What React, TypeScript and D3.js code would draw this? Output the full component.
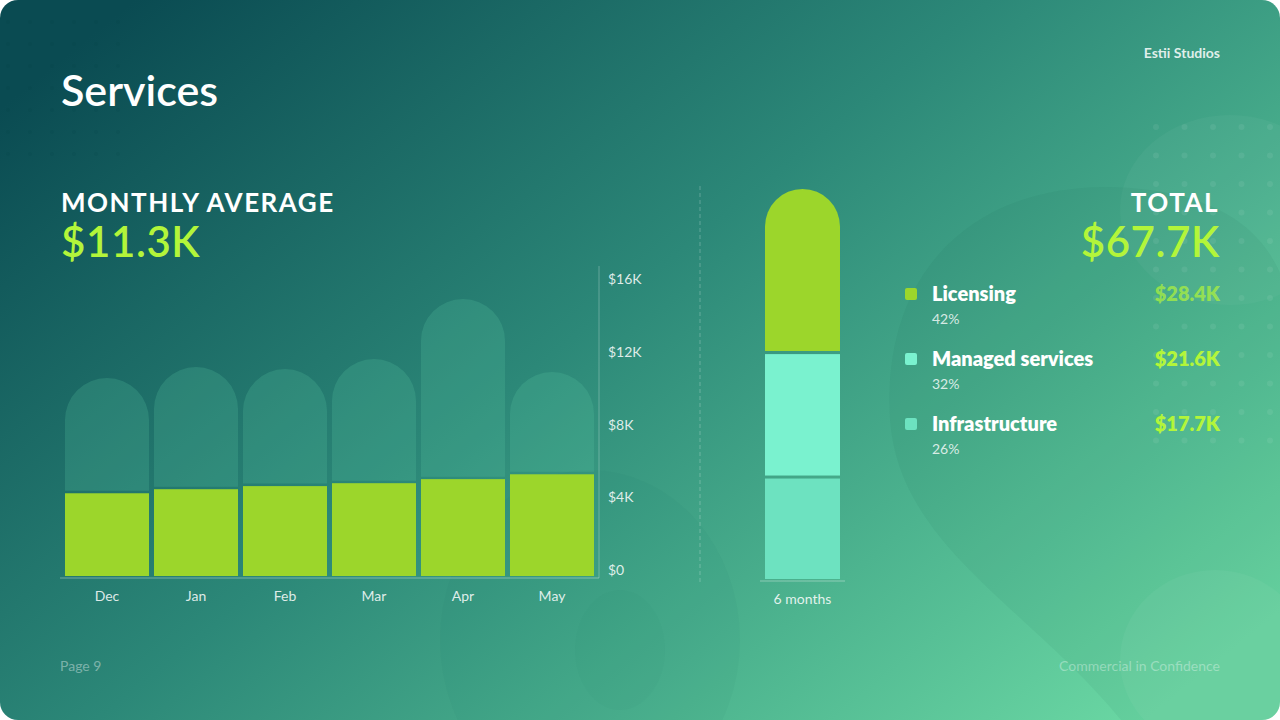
import React, { useEffect } from "react";
import * as d3 from "d3";

// monthly spend, $K
const months = ["Dec", "Jan", "Feb", "Mar", "Apr", "May"];
const monthTotals = [10.22, 10.79, 10.68, 11.2, 14.3, 10.53];
const monthLicensing = [4.27, 4.48, 4.64, 4.79, 5.0, 5.25];
const yTickLabels = ["$0", "$4K", "$8K", "$12K", "$16K"];

// six-month totals by service, $K
const serviceNames = ["Licensing", "Managed services", "Infrastructure"];
const serviceTotals = [28.4, 21.6, 17.7];
const servicePercents = [42, 32, 26];
const serviceColors = ["#9cd62b", "#7af2cf", "#6de2c0"];

const FONT = "Lato, 'Noto Sans', sans-serif";
const W = 1280;
const H = 720;

const fmtK = (v: number) => `$${v.toFixed(1)}K`;

function roundTop(x: number, y: number, w: number, h: number, r: number) {
  const p = d3.path();
  const rr = Math.min(r, w / 2, h);
  p.moveTo(x, y + h);
  p.lineTo(x, y + rr);
  p.arc(x + rr, y + rr, rr, Math.PI, Math.PI * 1.5);
  p.lineTo(x + w - rr, y);
  p.arc(x + w - rr, y + rr, rr, Math.PI * 1.5, 0);
  p.lineTo(x + w, y + h);
  p.closePath();
  return p.toString();
}

const App: React.FC = () => {
  useEffect(() => {
    document.body.style.margin = "0";
  }, []);

  // left chart scales
  const x = d3.scaleBand<string>().domain(months).range([65, 594]).paddingInner(0.056).paddingOuter(0);
  const y = d3.scaleLinear().domain([0, 16]).range([576, 266]);
  const yLabel = d3.scalePoint<string>().domain(yTickLabels).range([575, 284]);

  // stacked bar
  const total = d3.sum(serviceTotals);
  const row: Record<string, number> = {};
  serviceNames.forEach((n, i) => (row[n] = serviceTotals[i]));
  const stackOrder = [...serviceNames].reverse();
  const stacked = d3.stack<Record<string, number>>().keys(stackOrder)([row]);
  const ys = d3.scaleLinear().domain([0, total]).range([579, 189]);
  const sx = 765;
  const sw = 75;

  const avg = total / months.length;

  // decorative dot grids
  const dotsRight: [number, number][] = [];
  d3.range(0, 12).forEach((r) =>
    d3.range(0, 5).forEach((c) => dotsRight.push([1156 + c * 28.5, 127 + r * 28.5]))
  );
  const dotsLeft: [number, number][] = [];
  d3.range(0, 7).forEach((r) =>
    d3.range(0, 6).forEach((c) => dotsLeft.push([8 + c * 22, 22 + r * 22]))
  );

  return (
    <svg width={W} height={H} style={{ display: "block", background: "#fff" }} fontFamily={FONT}>
      <defs>
        <linearGradient id="bg" x1="0" y1="0.15" x2="1" y2="0.85">
          <stop offset="0" stopColor="#0a4b52" />
          <stop offset="0.45" stopColor="#2c8878" />
          <stop offset="0.75" stopColor="#4db48f" />
          <stop offset="1" stopColor="#6ad7a3" />
        </linearGradient>
        <clipPath id="card">
          <rect x={0} y={0} width={W} height={H} rx={18} />
        </clipPath>
      </defs>

      <g clipPath="url(#card)">
        <rect x={0} y={0} width={W} height={H} fill="url(#bg)" />
        {/* background blobs */}
        <ellipse cx={1230} cy={210} rx={110} ry={95} fill="#ffffff" opacity={0.035} />
        <path
          d="M 890 420 C 880 250 1000 170 1150 190 C 1290 210 1300 300 1300 420 L 1300 760 L 1150 760 C 1060 620 900 560 890 420 Z"
          fill="#0a5a4c"
          opacity={0.06}
        />
        <ellipse cx={1215} cy={660} rx={95} ry={90} fill="#ffffff" opacity={0.04} />
        <ellipse cx={590} cy={640} rx={150} ry={170} fill="#0b5048" opacity={0.035} />
        <ellipse cx={620} cy={650} rx={45} ry={60} fill="#0b5048" opacity={0.025} />
        {dotsRight.map(([cx, cy], i) => (
          <circle key={`dr${i}`} cx={cx} cy={cy} r={3} fill="#ffffff" opacity={0.07} />
        ))}
        {dotsLeft.map(([cx, cy], i) => (
          <circle key={`dl${i}`} cx={cx} cy={cy} r={2} fill="#003c40" opacity={0.1} />
        ))}
      </g>

      {/* header */}
      <text x={61} y={106} fill="#fff" fontSize={43} fontWeight={600}>
        Services
      </text>
      <text x={1220} y={58} fill="#fff" fillOpacity={0.85} fontSize={14} fontWeight={700} textAnchor="end">
        Estii Studios
      </text>

      {/* monthly average */}
      <text x={61} y={212} fill="#fff" fontSize={26} fontWeight={700} letterSpacing={1.5}>
        MONTHLY AVERAGE
      </text>
      <text x={61} y={257} fill="#b3f53a" fontSize={42} fontWeight={600} letterSpacing={0.6}>
        {fmtK(avg)}
      </text>

      {/* monthly bars */}
      <g>
        {months.map((m, i) => {
          const bx = x(m) ?? 0;
          const bw = x.bandwidth();
          const yt = y(monthTotals[i]);
          const yl = y(monthLicensing[i]);
          return (
            <g key={m}>
              <path d={roundTop(bx, yt, bw, yl - 2.5 - yt, bw / 2)} fill="#5ccaa6" fillOpacity={0.22} />
              <rect x={bx} y={yl} width={bw} height={y(0) - yl} fill="#9cd62b" />
              <text
                x={bx + bw / 2}
                y={601}
                fill="#fff"
                fillOpacity={0.85}
                fontSize={14}
                textAnchor="middle"
              >
                {m}
              </text>
            </g>
          );
        })}
        <line x1={60} x2={599} y1={578} y2={578} stroke="#ffffff" strokeOpacity={0.18} strokeWidth={2} />
        <line x1={599} x2={599} y1={266} y2={578} stroke="#ffffff" strokeOpacity={0.18} strokeWidth={1.5} />
        {yTickLabels.map((t) => (
          <text key={t} x={608} y={yLabel(t) ?? 0} fill="#fff" fillOpacity={0.85} fontSize={14}>
            {t}
          </text>
        ))}
      </g>

      {/* divider */}
      <line
        x1={700}
        x2={700}
        y1={186}
        y2={582}
        stroke="#ffffff"
        strokeOpacity={0.25}
        strokeDasharray="4 3"
      />

      {/* six-month stacked bar */}
      <g>
        {stacked.map((layer) => {
          const idx = serviceNames.indexOf(layer.key);
          const [v0, v1] = layer[0];
          const top = ys(v1) + (idx === 0 ? 0 : 1.5);
          const bot = ys(v0) - (v0 === 0 ? 0 : 1.5);
          return idx === 0 ? (
            <path key={layer.key} d={roundTop(sx, top, sw, bot - top, sw / 2)} fill={serviceColors[idx]} />
          ) : (
            <rect key={layer.key} x={sx} y={top} width={sw} height={bot - top} fill={serviceColors[idx]} />
          );
        })}
        <line x1={760} x2={845} y1={581} y2={581} stroke="#ffffff" strokeOpacity={0.18} strokeWidth={2} />
        <text x={sx + sw / 2} y={604} fill="#fff" fillOpacity={0.85} fontSize={14} textAnchor="middle">
          6 months
        </text>
      </g>

      {/* total + legend */}
      <text x={1219} y={212} fill="#fff" fontSize={26} fontWeight={700} letterSpacing={1.5} textAnchor="end">
        TOTAL
      </text>
      <text x={1220} y={257} fill="#b3f53a" fontSize={42} fontWeight={600} letterSpacing={0.6} textAnchor="end">
        {fmtK(total)}
      </text>
      {serviceNames.map((n, i) => {
        const cy = 294 + i * 65;
        return (
          <g key={n}>
            <rect x={905} y={cy - 6} width={12} height={12} rx={2} fill={serviceColors[i]} />
            <text x={932} y={cy + 7} fill="#fff" fontSize={20} fontWeight={800}>
              {n}
            </text>
            <text
              x={1220}
              y={cy + 7}
              fill="#b3f53a"
              fillOpacity={i === 0 ? 0.7 : 1}
              fontSize={20}
              fontWeight={800}
              textAnchor="end"
            >
              {fmtK(serviceTotals[i])}
            </text>
            <text x={932} y={cy + 30} fill="#fff" fillOpacity={0.8} fontSize={14}>
              {servicePercents[i]}%
            </text>
          </g>
        );
      })}

      {/* footer */}
      <text x={60} y={671} fill="#fff" fillOpacity={0.4} fontSize={14}>
        Page 9
      </text>
      <text x={1220} y={671} fill="#fff" fillOpacity={0.35} fontSize={14} textAnchor="end">
        Commercial in Confidence
      </text>
    </svg>
  );
};

export default App;
